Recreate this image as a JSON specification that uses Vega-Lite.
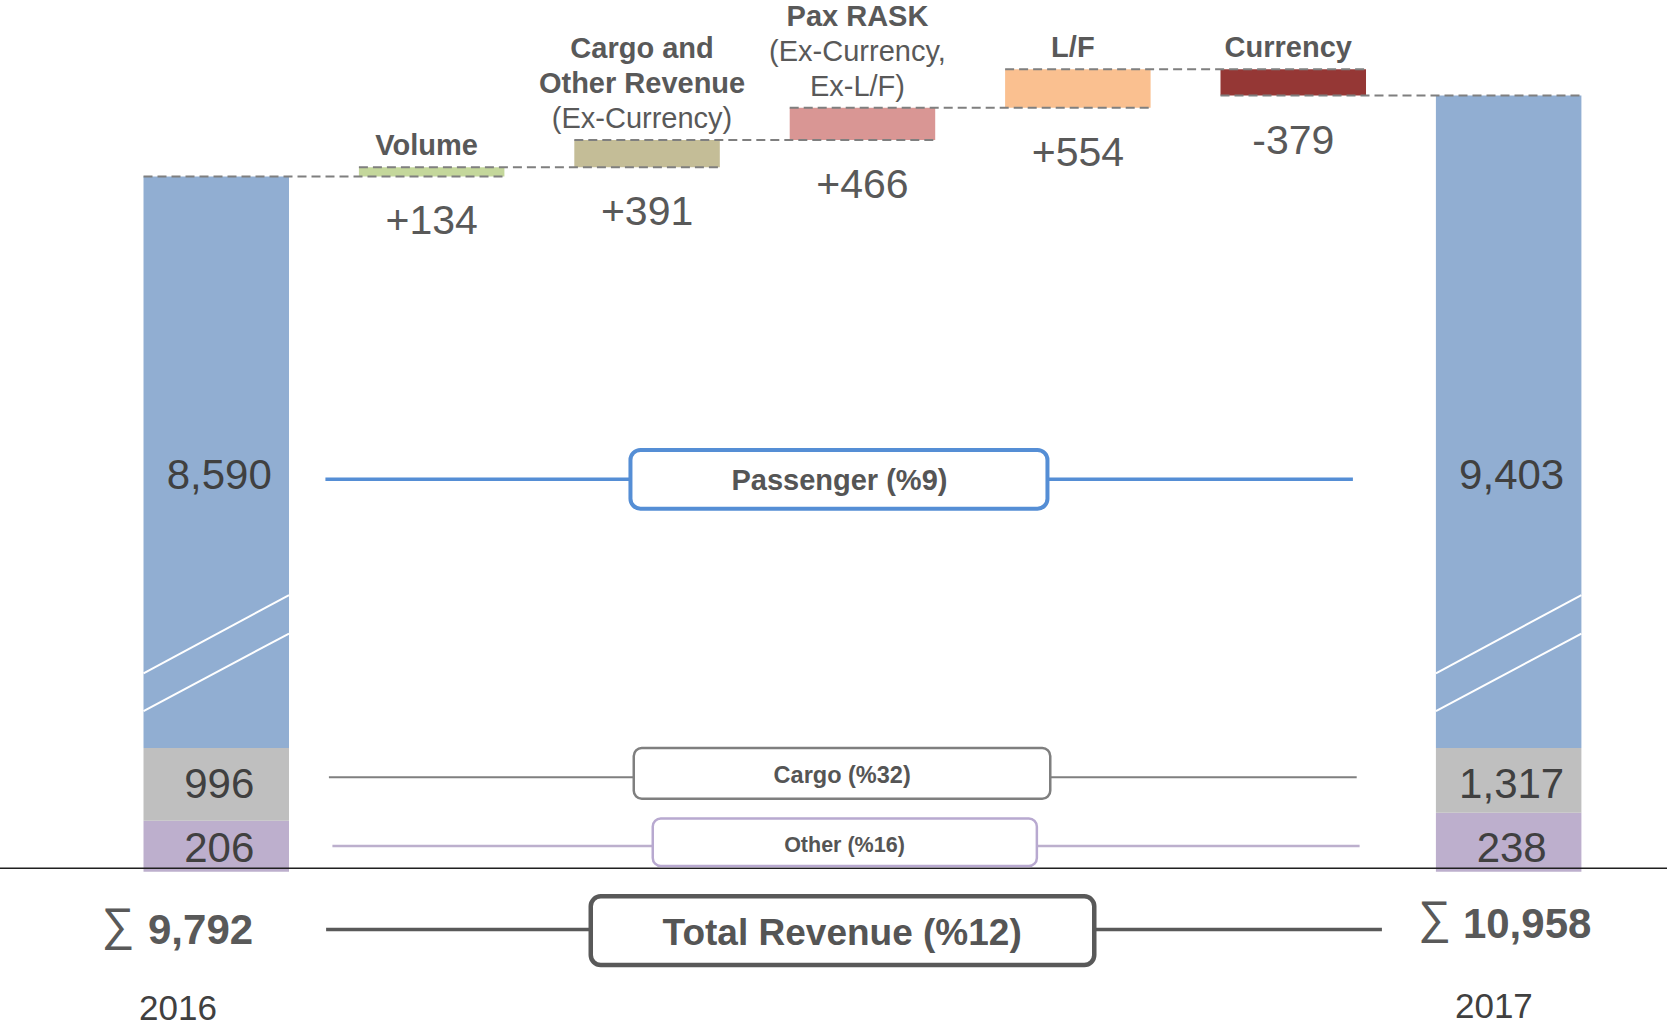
{
  "$schema": "https://vega.github.io/schema/vega-lite/v6.json",
  "width": 1667,
  "height": 1026,
  "autosize": {"type": "none"},
  "padding": 0,
  "background": "#ffffff",
  "config": {
    "view": {"stroke": null},
    "font": "Liberation Sans",
    "text": {"font": "Liberation Sans"},
    "axis": {"disable": true},
    "legend": {"disable": true}
  },
  "datasets": {
    "revenue": [
      {"year": "2016", "segment": "Other", "stackOrder": 1, "value": 206},
      {"year": "2016", "segment": "Cargo", "stackOrder": 2, "value": 996},
      {"year": "2016", "segment": "Passenger", "stackOrder": 3, "value": 8590},
      {"year": "2017", "segment": "Other", "stackOrder": 1, "value": 238},
      {"year": "2017", "segment": "Cargo", "stackOrder": 2, "value": 1317},
      {"year": "2017", "segment": "Passenger", "stackOrder": 3, "value": 9403}
    ],
    "bridge": [
      {"step": "Volume", "prev": "2016", "title": "Volume", "sub": "", "start": 9792, "end": 9926},
      {"step": "Cargo and Other Revenue", "prev": "Volume", "title": "Cargo and\nOther Revenue", "sub": "(Ex-Currency)", "start": 9926, "end": 10317},
      {"step": "Pax RASK", "prev": "Cargo and Other Revenue", "title": "Pax RASK", "sub": "(Ex-Currency,\nEx-L/F)", "start": 10317, "end": 10783},
      {"step": "L/F", "prev": "Pax RASK", "title": "L/F", "sub": "", "start": 10783, "end": 11337},
      {"step": "Currency", "prev": "L/F", "title": "Currency", "sub": "", "start": 11337, "end": 10958}
    ]
  },
  "data": {"name": "revenue"},
  "transform": [
    {"stack": "value", "groupby": ["year"], "sort": [{"field": "stackOrder", "order": "ascending"}], "as": ["v0", "v1"]},
    {"window": [{"op": "first_value", "field": "value", "as": "first"}, {"op": "last_value", "field": "value", "as": "last"}], "groupby": ["segment"], "sort": [{"field": "year", "order": "ascending"}], "frame": [null, null]},
    {"calculate": "datum.segment + ' (%' + round((datum.last / datum.first - 1) * 100) + ')'", "as": "rowLabel"}
  ],
  "layer": [
    {
      "mark": {"type": "bar"},
      "encoding": {
        "x": {
          "field": "year", "type": "nominal", "axis": null,
          "scale": {"type": "band", "domain": ["2016", "Volume", "Cargo and Other Revenue", "Pax RASK", "L/F", "Currency", "2017"], "paddingInner": 0.3245, "paddingOuter": 0.5318, "align": 0.6264}
        },
        "y": {
          "field": "v0", "type": "quantitative", "axis": null,
          "scale": {"type": "linear", "domain": [0, 206, 238, 1202, 1555, 11337], "range": [871.7, 820.7, 812.7, 748, 748, 69.3], "nice": false, "zero": false}
        },
        "y2": {"field": "v1"},
        "color": {
          "field": "segment", "type": "nominal", "legend": null,
          "scale": {
            "domain": ["Passenger", "Cargo", "Other", "Volume", "Cargo and Other Revenue", "Pax RASK", "L/F", "Currency"],
            "range": ["#91aed2", "#bfbfbf", "#bdafcd", "#c4d79b", "#c4bd97", "#d99694", "#fac090", "#953735"]
          }
        }
      }
    },
    {
      "transform": [{"filter": "datum.segment == 'Passenger'"}],
      "layer": [
        {
          "mark": {"type": "rule", "color": "#ffffff", "strokeWidth": 2},
          "encoding": {
            "x": {"field": "year", "type": "nominal", "bandPosition": 0},
            "x2": {"field": "year", "bandPosition": 1},
            "y": {"datum": 2630, "type": "quantitative"},
            "y2": {"datum": 3760}
          }
        },
        {
          "mark": {"type": "rule", "color": "#ffffff", "strokeWidth": 2},
          "encoding": {
            "x": {"field": "year", "type": "nominal", "bandPosition": 0},
            "x2": {"field": "year", "bandPosition": 1},
            "y": {"datum": 2085, "type": "quantitative"},
            "y2": {"datum": 3205}
          }
        },
        {
          "mark": {"type": "text", "fontSize": 42, "color": "#404040", "baseline": "middle", "dx": 3, "dy": -272},
          "encoding": {
            "x": {"field": "year", "type": "nominal"},
            "y": {"field": "v0", "type": "quantitative"},
            "text": {"field": "value", "type": "quantitative", "format": ","}
          }
        }
      ]
    },
    {
      "transform": [{"filter": "datum.segment == 'Cargo'"}],
      "mark": {"type": "text", "fontSize": 42, "color": "#404040", "baseline": "middle", "dx": 3, "dy": 37},
      "encoding": {
        "x": {"field": "year", "type": "nominal"},
        "y": {"field": "v1", "type": "quantitative"},
        "text": {"field": "value", "type": "quantitative", "format": ","}
      }
    },
    {
      "transform": [{"filter": "datum.segment == 'Other'"}],
      "mark": {"type": "text", "fontSize": 42, "color": "#404040", "baseline": "middle", "dx": 3, "dy": -23},
      "encoding": {
        "x": {"field": "year", "type": "nominal"},
        "y": {"field": "v0", "type": "quantitative"},
        "text": {"field": "value", "type": "quantitative", "format": ","}
      }
    },
    {
      "data": {"name": "bridge"},
      "transform": [
        {"calculate": "min(datum.start, datum.end)", "as": "low"},
        {"calculate": "max(datum.start, datum.end)", "as": "high"},
        {"calculate": "datum.end - datum.start", "as": "change"},
        {"calculate": "(datum.change >= 0 ? '+' : '-') + format(abs(datum.change), ',d')", "as": "changeLabel"}
      ],
      "layer": [
        {
          "mark": {"type": "bar"},
          "encoding": {
            "x": {"field": "step", "type": "nominal"},
            "y": {"field": "start", "type": "quantitative"},
            "y2": {"field": "end"},
            "color": {"field": "step", "type": "nominal", "legend": null}
          }
        },
        {
          "mark": {"type": "rule", "color": "#7f7f7f", "strokeWidth": 2, "strokeDash": [9, 5]},
          "encoding": {
            "x": {"field": "prev", "type": "nominal", "bandPosition": 0},
            "x2": {"field": "step", "bandPosition": 1},
            "y": {"field": "start", "type": "quantitative"}
          }
        },
        {
          "transform": [{"filter": "datum.step == 'Currency'"}],
          "mark": {"type": "rule", "color": "#7f7f7f", "strokeWidth": 2, "strokeDash": [9, 5]},
          "encoding": {
            "x": {"field": "step", "type": "nominal", "bandPosition": 0},
            "x2": {"datum": "2017", "bandPosition": 1},
            "y": {"field": "end", "type": "quantitative"}
          }
        },
        {
          "mark": {"type": "text", "fontSize": 41, "color": "#595959", "baseline": "top", "dy": 26},
          "encoding": {
            "x": {"field": "step", "type": "nominal"},
            "y": {"field": "low", "type": "quantitative"},
            "text": {"field": "changeLabel", "type": "nominal"}
          }
        },
        {
          "transform": [
            {"calculate": "datum.sub ? split(datum.title + '\\n' + datum.sub, '\\n') : split(datum.title, '\\n')", "as": "lines"},
            {"calculate": "length(split(datum.title, '\\n'))", "as": "titleLines"},
            {"calculate": "length(datum.lines)", "as": "nLines"},
            {"flatten": ["lines"], "as": ["line"]},
            {"window": [{"op": "row_number", "as": "idx"}], "groupby": ["step"]},
            {"calculate": "datum.nLines - datum.idx", "as": "fromBottom"},
            {"calculate": "datum.idx <= datum.titleLines", "as": "isTitle"}
          ],
          "layer": [
            {
              "transform": [{"filter": "datum.isTitle && datum.fromBottom == 0"}],
              "mark": {"type": "text", "fontSize": 29, "fontWeight": "bold", "color": "#595959", "baseline": "alphabetic", "dx": -5, "dy": -12},
              "encoding": {
                "x": {"field": "step", "type": "nominal"},
                "y": {"field": "high", "type": "quantitative"},
                "text": {"field": "line", "type": "nominal"}
              }
            },
            {
              "transform": [{"filter": "datum.isTitle && datum.fromBottom == 1"}],
              "mark": {"type": "text", "fontSize": 29, "fontWeight": "bold", "color": "#595959", "baseline": "alphabetic", "dx": -5, "dy": -47},
              "encoding": {
                "x": {"field": "step", "type": "nominal"},
                "y": {"field": "high", "type": "quantitative"},
                "text": {"field": "line", "type": "nominal"}
              }
            },
            {
              "transform": [{"filter": "datum.isTitle && datum.fromBottom == 2"}],
              "mark": {"type": "text", "fontSize": 29, "fontWeight": "bold", "color": "#595959", "baseline": "alphabetic", "dx": -5, "dy": -82},
              "encoding": {
                "x": {"field": "step", "type": "nominal"},
                "y": {"field": "high", "type": "quantitative"},
                "text": {"field": "line", "type": "nominal"}
              }
            },
            {
              "transform": [{"filter": "!datum.isTitle && datum.fromBottom == 0"}],
              "mark": {"type": "text", "fontSize": 29, "color": "#595959", "baseline": "alphabetic", "dx": -5, "dy": -12},
              "encoding": {
                "x": {"field": "step", "type": "nominal"},
                "y": {"field": "high", "type": "quantitative"},
                "text": {"field": "line", "type": "nominal"}
              }
            },
            {
              "transform": [{"filter": "!datum.isTitle && datum.fromBottom == 1"}],
              "mark": {"type": "text", "fontSize": 29, "color": "#595959", "baseline": "alphabetic", "dx": -5, "dy": -47},
              "encoding": {
                "x": {"field": "step", "type": "nominal"},
                "y": {"field": "high", "type": "quantitative"},
                "text": {"field": "line", "type": "nominal"}
              }
            }
          ]
        }
      ]
    },
    {
      "data": {"values": [{}]},
      "mark": {"type": "rule", "color": "#1f1f1f", "strokeWidth": 1.6, "yOffset": -3.4},
      "encoding": {"y": {"datum": 0, "type": "quantitative"}}
    },
    {
      "transform": [{"filter": "datum.year == '2016' && datum.segment == 'Passenger'"}],
      "layer": [
        {
          "mark": {"type": "rule", "color": "#558ed5", "strokeWidth": 3.5, "xOffset": 36.4, "x2Offset": -83, "yOffset": -268.7},
          "encoding": {
            "x": {"datum": "2016", "bandPosition": 1},
            "x2": {"datum": "2017", "bandPosition": 0},
            "y": {"field": "v0", "type": "quantitative"}
          }
        },
        {
          "mark": {"type": "rect", "fill": "#ffffff", "stroke": "#558ed5", "strokeWidth": 4, "cornerRadius": 10, "xOffset": -232, "x2Offset": 185, "yOffset": -298, "y2Offset": -239.3},
          "encoding": {
            "x": {"datum": "Pax RASK", "bandPosition": 0.5},
            "x2": {"datum": "Pax RASK", "bandPosition": 0.5},
            "y": {"field": "v0", "type": "quantitative"},
            "y2": {"field": "v0"}
          }
        },
        {
          "mark": {"type": "text", "fontSize": 29, "fontWeight": "bold", "color": "#555555", "baseline": "middle", "dx": -23, "dy": -267},
          "encoding": {
            "x": {"datum": "Pax RASK"},
            "y": {"field": "v0", "type": "quantitative"},
            "text": {"field": "rowLabel", "type": "nominal"}
          }
        }
      ]
    },
    {
      "transform": [{"filter": "datum.year == '2016' && datum.segment == 'Cargo'"}],
      "layer": [
        {
          "mark": {"type": "rule", "color": "#7f7f7f", "strokeWidth": 2, "xOffset": 39.9, "x2Offset": -79.2, "yOffset": 29.3},
          "encoding": {
            "x": {"datum": "2016", "bandPosition": 1},
            "x2": {"datum": "2017", "bandPosition": 0},
            "y": {"field": "v1", "type": "quantitative"}
          }
        },
        {
          "mark": {"type": "rect", "fill": "#ffffff", "stroke": "#7f7f7f", "strokeWidth": 2.5, "cornerRadius": 8, "xOffset": -228.7, "x2Offset": 187.8, "yOffset": 0, "y2Offset": 50.7},
          "encoding": {
            "x": {"datum": "Pax RASK", "bandPosition": 0.5},
            "x2": {"datum": "Pax RASK", "bandPosition": 0.5},
            "y": {"field": "v1", "type": "quantitative"},
            "y2": {"field": "v1"}
          }
        },
        {
          "mark": {"type": "text", "fontSize": 23.5, "fontWeight": "bold", "color": "#555555", "baseline": "middle", "dx": -20.3, "dy": 28.4},
          "encoding": {
            "x": {"datum": "Pax RASK"},
            "y": {"field": "v1", "type": "quantitative"},
            "text": {"field": "rowLabel", "type": "nominal"}
          }
        }
      ]
    },
    {
      "transform": [{"filter": "datum.year == '2016' && datum.segment == 'Other'"}],
      "layer": [
        {
          "mark": {"type": "rule", "color": "#bcafcd", "strokeWidth": 2.5, "xOffset": 43.4, "x2Offset": -76.3, "yOffset": -25.7},
          "encoding": {
            "x": {"datum": "2016", "bandPosition": 1},
            "x2": {"datum": "2017", "bandPosition": 0},
            "y": {"field": "v0", "type": "quantitative"}
          }
        },
        {
          "mark": {"type": "rect", "fill": "#ffffff", "stroke": "#b8a9d0", "strokeWidth": 2.5, "cornerRadius": 8, "xOffset": -209.7, "x2Offset": 174.4, "yOffset": -53.2, "y2Offset": -5.7},
          "encoding": {
            "x": {"datum": "Pax RASK", "bandPosition": 0.5},
            "x2": {"datum": "Pax RASK", "bandPosition": 0.5},
            "y": {"field": "v0", "type": "quantitative"},
            "y2": {"field": "v0"}
          }
        },
        {
          "mark": {"type": "text", "fontSize": 21.5, "fontWeight": "bold", "color": "#555555", "baseline": "middle", "dx": -18, "dy": -26.2},
          "encoding": {
            "x": {"datum": "Pax RASK"},
            "y": {"field": "v0", "type": "quantitative"},
            "text": {"field": "rowLabel", "type": "nominal"}
          }
        }
      ]
    },
    {
      "transform": [
        {"aggregate": [{"op": "sum", "field": "value", "as": "total"}], "groupby": ["year"]},
        {"window": [{"op": "first_value", "field": "total", "as": "t0"}, {"op": "last_value", "field": "total", "as": "t1"}], "sort": [{"field": "year", "order": "ascending"}], "frame": [null, null]},
        {"calculate": "'Total Revenue (%' + round((datum.t1 / datum.t0 - 1) * 100) + ')'", "as": "totalLabel"}
      ],
      "layer": [
        {
          "transform": [{"filter": "datum.year == '2016'"}],
          "mark": {"type": "rule", "color": "#595959", "strokeWidth": 3.5, "xOffset": 37.1, "x2Offset": -54, "yOffset": 57.8},
          "encoding": {
            "x": {"datum": "2016", "bandPosition": 1},
            "x2": {"datum": "2017", "bandPosition": 0},
            "y": {"datum": 0, "type": "quantitative"}
          }
        },
        {
          "transform": [{"filter": "datum.year == '2016'"}],
          "mark": {"type": "rect", "fill": "#ffffff", "stroke": "#595959", "strokeWidth": 4.5, "cornerRadius": 10, "xOffset": -271.7, "x2Offset": 231.8, "yOffset": 24.6, "y2Offset": 93.3},
          "encoding": {
            "x": {"datum": "Pax RASK", "bandPosition": 0.5},
            "x2": {"datum": "Pax RASK", "bandPosition": 0.5},
            "y": {"datum": 0, "type": "quantitative"},
            "y2": {"datum": 0}
          }
        },
        {
          "transform": [{"filter": "datum.year == '2016'"}],
          "mark": {"type": "text", "fontSize": 37, "fontWeight": "bold", "color": "#555555", "baseline": "middle", "dx": -20.3, "dy": 62.2},
          "encoding": {
            "x": {"datum": "Pax RASK"},
            "y": {"datum": 0, "type": "quantitative"},
            "text": {"field": "totalLabel", "type": "nominal"}
          }
        },
        {
          "transform": [{"filter": "datum.year == '2016'"}],
          "mark": {"type": "text", "text": "∑", "fontSize": 46, "color": "#595959", "align": "center", "baseline": "middle", "dx": -25.5, "dy": 54.4},
          "encoding": {
            "x": {"field": "year", "type": "nominal", "bandPosition": 0},
            "y": {"datum": 0, "type": "quantitative"}
          }
        },
        {
          "transform": [{"filter": "datum.year == '2016'"}],
          "mark": {"type": "text", "fontSize": 42, "fontWeight": "bold", "color": "#595959", "align": "left", "baseline": "middle", "dx": 4.5, "dy": 59.3},
          "encoding": {
            "x": {"field": "year", "type": "nominal", "bandPosition": 0},
            "y": {"datum": 0, "type": "quantitative"},
            "text": {"field": "total", "type": "quantitative", "format": ","}
          }
        },
        {
          "transform": [{"filter": "datum.year == '2017'"}],
          "mark": {"type": "text", "text": "∑", "fontSize": 46, "color": "#595959", "align": "center", "baseline": "middle", "dx": -1.5, "dy": 47.4},
          "encoding": {
            "x": {"field": "year", "type": "nominal", "bandPosition": 0},
            "y": {"datum": 0, "type": "quantitative"}
          }
        },
        {
          "transform": [{"filter": "datum.year == '2017'"}],
          "mark": {"type": "text", "fontSize": 42, "fontWeight": "bold", "color": "#595959", "align": "left", "baseline": "middle", "dx": 27, "dy": 53.3},
          "encoding": {
            "x": {"field": "year", "type": "nominal", "bandPosition": 0},
            "y": {"datum": 0, "type": "quantitative"},
            "text": {"field": "total", "type": "quantitative", "format": ","}
          }
        },
        {
          "transform": [{"filter": "datum.year == '2016'"}],
          "mark": {"type": "text", "fontSize": 35, "color": "#404040", "align": "center", "baseline": "middle", "dx": 34.5, "dy": 137.3},
          "encoding": {
            "x": {"field": "year", "type": "nominal", "bandPosition": 0},
            "y": {"datum": 0, "type": "quantitative"},
            "text": {"field": "year", "type": "nominal"}
          }
        },
        {
          "transform": [{"filter": "datum.year == '2017'"}],
          "mark": {"type": "text", "fontSize": 35, "color": "#404040", "align": "center", "baseline": "middle", "dx": 58, "dy": 135.3},
          "encoding": {
            "x": {"field": "year", "type": "nominal", "bandPosition": 0},
            "y": {"datum": 0, "type": "quantitative"},
            "text": {"field": "year", "type": "nominal"}
          }
        }
      ]
    }
  ]
}
